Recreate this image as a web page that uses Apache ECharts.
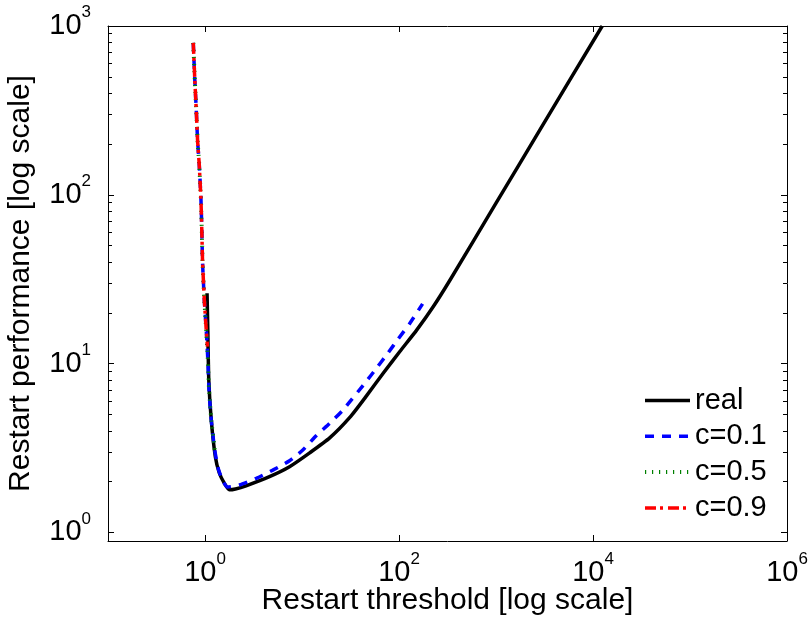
<!DOCTYPE html>
<html><head><meta charset="utf-8">
<script src="https://cdn.jsdelivr.net/npm/echarts@6/dist/echarts.min.js"></script>
<style>html,body{margin:0;padding:0;background:#fff}#c{width:812px;height:618px}</style>
</head><body><div id="c"></div>
<script>
// ---- data ----
const seriesNames = ['real', 'c=0.1', 'c=0.5', 'c=0.9'];

const realX = [1.05, 1.069, 1.094, 1.16, 1.278, 1.405, 1.58, 1.78, 2.06, 2.65, 4.62, 7.44, 12.0, 19.3, 31.1, 46.2, 68.7, 102, 152, 226, 336, 1000, 3000, 12450];
const realY = [26.1, 15.8, 8.0, 4.64, 2.81, 2.25, 1.96, 1.79, 1.81, 1.89, 2.14, 2.45, 2.96, 3.63, 4.80, 6.44, 8.77, 11.8, 15.8, 21.8, 31.3, 89.2, 256, 1000];

const c01X = [0.757, 0.785, 0.813, 0.838, 0.873, 0.909, 0.927, 0.944, 0.984, 1.03, 1.07, 1.1, 1.16, 1.26, 1.38, 1.55, 1.71, 2.26, 3.37, 5.0, 7.44, 10.2, 14.0, 19.3, 26.5, 44.4, 58.6, 77.3, 98, 130, 175];
const c01Y = [794, 479, 318, 211, 150, 93, 62, 39.5, 23.8, 15.8, 10.5, 6.98, 4.64, 3.08, 2.35, 1.99, 1.86, 1.91, 2.09, 2.34, 2.66, 3.08, 3.74, 4.43, 5.32, 7.65, 9.4, 11.6, 14.0, 17.4, 22.6];

const c05X = [0.757, 0.785, 0.813, 0.838, 0.873, 0.909, 0.927, 0.944, 0.984, 1.03, 1.07, 1.1, 1.16, 1.26];
const c05Y = [794, 479, 318, 211, 150, 93, 62, 39.5, 23.8, 15.8, 10.5, 6.98, 4.64, 3.08];

const c09X = [0.757, 0.785, 0.813, 0.838, 0.873, 0.909, 0.927, 0.944, 0.984, 1.03, 1.06];
const c09Y = [794, 479, 318, 211, 150, 93, 62, 39.5, 23.8, 15.8, 12.6];

const xTickValues = [1, 100, 10000, 1000000];
const yTickValues = [1, 10, 100, 1000];
const yMinorTickValues = [2, 3, 4, 5, 6, 7, 8, 9, 20, 30, 40, 50, 60, 70, 80, 90, 200, 300, 400, 500, 600, 700, 800, 900];
const xAxisTitle = 'Restart threshold [log scale]';
const yAxisTitle = 'Restart performance [log scale]';

// ---- chart ----
const FONT = '"Liberation Sans", Arial, Helvetica, sans-serif';
const pair = (xs, ys) => xs.map((x, i) => [x, ys[i]]);
const supLabel = v => '{b|10}{s|' + Math.round(Math.log10(v)) + '}';
const rich = {
  b: { fontSize: 29, lineHeight: 44, fontFamily: FONT, color: '#000' },
  s: { fontSize: 17, lineHeight: 17, verticalAlign: 'top', fontFamily: FONT, color: '#000' }
};
const lineAx = { show: true, onZero: false, lineStyle: { color: '#000', width: 1 } };
const tick = (vals, len) => ({ show: true, inside: true, length: len, customValues: vals, lineStyle: { color: '#000', width: 1 } });

const xBase = { type: 'log', logBase: 10, min: 0.1, max: 1000000, gridIndex: 0, splitLine: { show: false }, minorTick: { show: false } };
const yBase = { type: 'log', logBase: 10, min: 0.89, max: 1000, gridIndex: 0, splitLine: { show: false }, minorTick: { show: false } };

const option = {
  animation: false,
  backgroundColor: '#fff',
  grid: { left: 108, right: 25, top: 26, bottom: 77, containLabel: false, outerBoundsMode: 'none' },
  xAxis: [
    Object.assign({}, xBase, {
      position: 'bottom', axisLine: lineAx, axisTick: tick(xTickValues, 6),
      axisLabel: { customValues: xTickValues, formatter: supLabel, rich: rich, margin: 10 },
      name: xAxisTitle, nameLocation: 'middle', nameGap: 45, nameMoveOverlap: false,
      nameTextStyle: { fontSize: 30, fontFamily: FONT, color: '#000' }
    }),
    Object.assign({}, xBase, {
      position: 'top', axisLine: lineAx, axisTick: tick(xTickValues, 6), axisLabel: { show: false }
    })
  ],
  yAxis: [
    Object.assign({}, yBase, {
      position: 'left', axisLine: lineAx, axisTick: tick(yTickValues, 6),
      axisLabel: { customValues: yTickValues, formatter: supLabel, rich: rich, margin: 17 },
      name: yAxisTitle, nameLocation: 'middle', nameGap: 72, nameMoveOverlap: false,
      nameTextStyle: { fontSize: 30, fontFamily: FONT, color: '#000' }
    }),
    Object.assign({}, yBase, {
      position: 'right', axisLine: lineAx, axisTick: tick(yTickValues, 6), axisLabel: { show: false }
    }),
    Object.assign({}, yBase, {
      position: 'left', axisLine: { show: false }, axisTick: tick(yMinorTickValues, 4), axisLabel: { show: false }
    }),
    Object.assign({}, yBase, {
      position: 'right', axisLine: { show: false }, axisTick: tick(yMinorTickValues, 4), axisLabel: { show: false }
    })
  ],
  legend: {
    orient: 'vertical', left: 643, top: 386, padding: 0, itemWidth: 45, itemHeight: 14, itemGap: 6.8,
    selectedMode: false,
    itemStyle: { opacity: 0 },
    data: [
      { name: seriesNames[0], lineStyle: { width: 3.5 } },
      { name: seriesNames[1], lineStyle: { width: 3.5 } },
      { name: seriesNames[2], lineStyle: { width: 4 } },
      { name: seriesNames[3], lineStyle: { width: 3.5 } }
    ],
    textStyle: { fontSize: 29, lineHeight: 29, fontFamily: FONT, color: '#000' }
  },
  series: [
    { name: seriesNames[0], type: 'line', data: pair(realX, realY), symbol: 'none', showSymbol: false,
      smooth: 0.2,
      lineStyle: { color: '#000', width: 3.5, join: 'round' }, itemStyle: { color: '#000' } },
    { name: seriesNames[1], type: 'line', data: pair(c01X, c01Y), symbol: 'none', showSymbol: false,
      smooth: 0.2,
      lineStyle: { color: '#0000ff', width: 3.5, type: [9, 8], cap: 'butt' }, itemStyle: { color: '#0000ff' } },
    { name: seriesNames[2], type: 'line', data: pair(c05X, c05Y), symbol: 'none', showSymbol: false,
      lineStyle: { color: '#008000', width: 4, type: [1.2, 5.8], cap: 'butt' }, itemStyle: { color: '#008000' } },
    { name: seriesNames[3], type: 'line', data: pair(c09X, c09Y), symbol: 'none', showSymbol: false,
      lineStyle: { color: '#ff0000', width: 3.5, type: [11, 4, 3, 5], cap: 'butt' }, itemStyle: { color: '#ff0000' } }
  ]
};
const chart = echarts.init(document.getElementById('c'), null, { renderer: 'canvas' });
chart.setOption(option);
</script>
</body></html>
